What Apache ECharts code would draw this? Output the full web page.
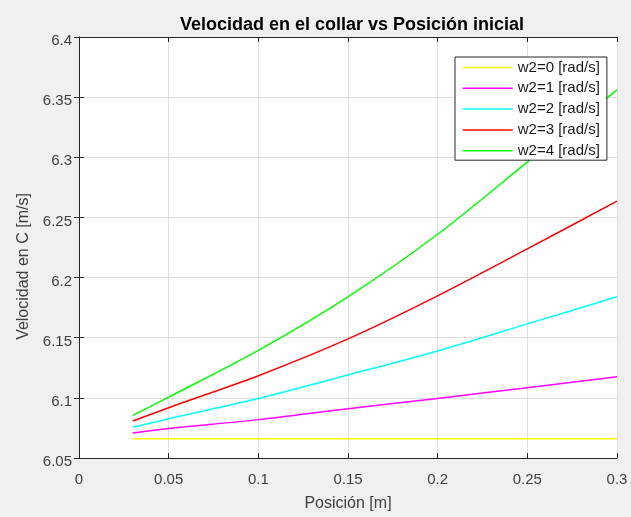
<!DOCTYPE html>
<html>
<head>
<meta charset="utf-8">
<script src="https://cdn.jsdelivr.net/npm/echarts@6/dist/echarts.min.js"></script>
<style>
  html, body { margin: 0; padding: 0; background: #f0f0f0; }
  #chart { width: 631px; height: 517px; }
</style>
</head>
<body>
<div id="chart"></div>
<script>
// Initial position of the collar [m]
const posicion = [0.03, 0.05, 0.10, 0.15, 0.20, 0.25, 0.30];

// Collar speed at C [m/s] for each angular velocity w2
const velW0 = [6.066, 6.066, 6.066, 6.066, 6.066, 6.066, 6.066];
const velW1 = [6.0708, 6.0745, 6.0819, 6.091, 6.0995, 6.1085, 6.1175];
const velW2 = [6.0755, 6.0827, 6.0994, 6.119, 6.139, 6.1615, 6.184];
const velW3 = [6.0807, 6.0918, 6.1184, 6.149, 6.1848, 6.2238, 6.2636];
const velW4 = [6.0854, 6.1006, 6.1395, 6.184, 6.236, 6.296, 6.356];

const seriesNames = ['w2=0 [rad/s]', 'w2=1 [rad/s]', 'w2=2 [rad/s]', 'w2=3 [rad/s]', 'w2=4 [rad/s]'];
const seriesColors = ['#ffff00', '#ff00ff', '#00ffff', '#ff0000', '#00ff00'];
const seriesValues = [velW0, velW1, velW2, velW3, velW4];

const FONT = '"Liberation Sans", Arial, Helvetica, sans-serif';
const AXIS_COLOR = '#262626';
const LABEL_COLOR = '#404040';

function pairs(ys) {
  return posicion.map((x, i) => [x, ys[i]]);
}

const series = seriesValues.map((ys, i) => ({
  name: seriesNames[i],
  type: 'line',
  xAxisIndex: 0,
  yAxisIndex: 0,
  data: pairs(ys),
  smooth: 0.3,
  symbol: 'none',
  showSymbol: false,
  lineStyle: { color: seriesColors[i], width: 1.5 },
  itemStyle: { color: seriesColors[i] },
  emphasis: { disabled: true },
  animation: false
}));

const chart = echarts.init(document.getElementById('chart'), null, { renderer: 'canvas' });

const xBase = {
  type: 'value', min: 0, max: 0.3, interval: 0.05,
  axisLine: { show: true, lineStyle: { color: AXIS_COLOR, width: 1 } },
  axisTick: { show: true, inside: true, length: 5, lineStyle: { color: AXIS_COLOR } }
};
const yBase = {
  type: 'value', min: 6.05, max: 6.4, interval: 0.05,
  axisLine: { show: true, lineStyle: { color: AXIS_COLOR, width: 1 } },
  axisTick: { show: true, inside: true, length: 5, lineStyle: { color: AXIS_COLOR } }
};

chart.setOption({
  backgroundColor: '#f0f0f0',
  animation: false,
  title: {
    text: 'Velocidad en el collar vs Posición inicial',
    left: 347, textAlign: 'center', top: 11,
    textStyle: { fontFamily: FONT, fontSize: 18, fontWeight: 'bold', color: '#000' }
  },
  grid: {
    left: 79, right: 14, top: 37, bottom: 55,
    show: true, backgroundColor: '#ffffff', borderWidth: 0
  },
  legend: {
    orient: 'vertical',
    left: 455, top: 57,
    padding: [3, 7, 2, 7],
    itemWidth: 50, itemHeight: 14, itemGap: 5.8,
    backgroundColor: '#ffffff',
    borderColor: AXIS_COLOR, borderWidth: 1,
    itemStyle: { opacity: 0 },
    lineStyle: { width: 1.5 },
    textStyle: { fontFamily: FONT, fontSize: 15, color: '#1a1a1a' },
    data: seriesNames
  },
  xAxis: [
    Object.assign({}, xBase, {
      position: 'bottom',
      name: 'Posición [m]', nameLocation: 'middle', nameGap: 38,
      nameTextStyle: { fontFamily: FONT, fontSize: 16, color: LABEL_COLOR },
      axisLabel: {
        margin: 14, fontFamily: FONT, fontSize: 15, color: LABEL_COLOR,
        formatter: v => String(Math.round(v * 100) / 100)
      },
      splitLine: { show: true, lineStyle: { color: '#dfdfdf', width: 1 } }
    }),
    Object.assign({}, xBase, {
      position: 'top',
      axisLabel: { show: false },
      splitLine: { show: false }
    })
  ],
  yAxis: [
    Object.assign({}, yBase, {
      position: 'left',
      name: 'Velocidad en C [m/s]', nameLocation: 'middle', nameGap: 44,
      nameTextStyle: { fontFamily: FONT, fontSize: 16, color: LABEL_COLOR, padding: [0, 38, 0, 0] },
      axisLabel: {
        margin: 7, fontFamily: FONT, fontSize: 15, color: LABEL_COLOR,
        verticalAlign: 'top', lineHeight: 8,
        formatter: v => String(Math.round(v * 100) / 100)
      },
      splitLine: { show: true, lineStyle: { color: '#dfdfdf', width: 1 } }
    }),
    Object.assign({}, yBase, {
      position: 'right',
      axisLabel: { show: false },
      splitLine: { show: false }
    })
  ],
  series: series
});
</script>
</body>
</html>
